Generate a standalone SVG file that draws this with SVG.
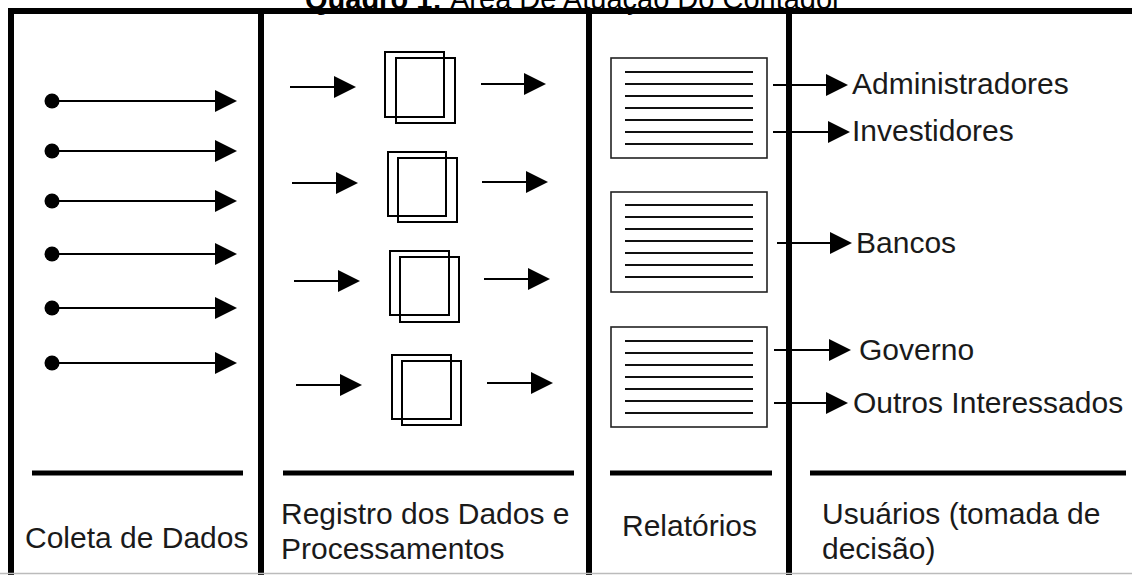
<svg xmlns="http://www.w3.org/2000/svg" width="1132" height="575" viewBox="0 0 1132 575">
<defs>
<style>
.frame{stroke:#000;stroke-width:6;fill:none}
.bar{stroke:#000;stroke-width:5}
.ln{stroke:#000;stroke-width:2;fill:none}
.box{stroke:#000;stroke-width:2;fill:none}
.rep{stroke:#222;stroke-width:1.6;fill:#fff}
.rl{stroke:#111;stroke-width:2}
.t{font-family:"Liberation Sans",Arial,sans-serif;font-size:30px;fill:#1a1a1a}
.title{font-family:"Liberation Sans",Arial,sans-serif;font-size:29px;fill:#000}
</style>
<marker id="ah" markerUnits="userSpaceOnUse" markerWidth="22" markerHeight="22" refX="0" refY="11" orient="auto" overflow="visible">
<path d="M0,0 L22,11 L0,22 Z" fill="#000"/>
</marker>
</defs>
<rect width="1132" height="575" fill="#fff"/>
<g id="title">
<text class="title" x="305" y="9"><tspan font-weight="bold">Quadro 1:</tspan> Área De Atuação Do Contador</text>
</g>
<g id="frame">
<line class="frame" x1="8" y1="11" x2="1132" y2="11"/>
<line class="frame" x1="11" y1="8" x2="11" y2="575"/>
<line class="frame" x1="261" y1="8" x2="261" y2="575"/>
<line class="frame" x1="589" y1="8" x2="589" y2="575"/>
<line class="frame" x1="789" y1="8" x2="789" y2="575"/>
<line x1="0" y1="573.5" x2="1132" y2="573.5" stroke="#bbb" stroke-width="1.5"/>
<line class="bar" x1="32" y1="473" x2="243" y2="473"/>
<line class="bar" x1="283" y1="473" x2="574" y2="473"/>
<line class="bar" x1="610" y1="473" x2="772" y2="473"/>
<line class="bar" x1="810" y1="473" x2="1126" y2="473"/>
</g>
<g id="col1-coleta">
<g fill="#000">
<circle cx="52" cy="101" r="7.5"/>
<circle cx="52" cy="151" r="7.5"/>
<circle cx="52" cy="201" r="7.5"/>
<circle cx="52" cy="254" r="7.5"/>
<circle cx="52" cy="308" r="7.5"/>
<circle cx="52" cy="363" r="7.5"/>
</g>
<text class="t" x="25" y="548">Coleta de Dados</text>
</g>
<g id="col2-registro">
<rect class="box" x="385" y="52" width="59" height="65"/>
<rect class="box" x="396" y="58" width="59" height="65"/>
<rect class="box" x="388" y="152" width="58" height="64"/>
<rect class="box" x="398" y="158" width="59" height="64"/>
<rect class="box" x="390" y="251" width="59" height="64"/>
<rect class="box" x="400" y="257" width="59" height="65"/>
<rect class="box" x="392" y="355" width="59" height="64"/>
<rect class="box" x="402" y="361" width="59" height="64"/>
<text class="t" x="281" y="524">Registro dos Dados e</text>
<text class="t" x="281" y="559">Processamentos</text>
</g>
<g id="col3-relatorios">
<rect class="rep" x="611" y="58" width="156" height="100"/>
<g class="rl">
<line x1="625" y1="72" x2="753" y2="72"/><line x1="625" y1="84" x2="753" y2="84"/><line x1="625" y1="96" x2="753" y2="96"/><line x1="625" y1="108" x2="753" y2="108"/><line x1="625" y1="120" x2="753" y2="120"/><line x1="625" y1="132" x2="753" y2="132"/><line x1="625" y1="144" x2="753" y2="144"/>
</g>
<rect class="rep" x="611" y="192" width="156" height="100"/>
<g class="rl">
<line x1="625" y1="205" x2="753" y2="205"/><line x1="625" y1="217" x2="753" y2="217"/><line x1="625" y1="229" x2="753" y2="229"/><line x1="625" y1="241" x2="753" y2="241"/><line x1="625" y1="253" x2="753" y2="253"/><line x1="625" y1="265" x2="753" y2="265"/><line x1="625" y1="277" x2="753" y2="277"/>
</g>
<rect class="rep" x="611" y="327" width="156" height="100"/>
<g class="rl">
<line x1="625" y1="341" x2="753" y2="341"/><line x1="625" y1="353" x2="753" y2="353"/><line x1="625" y1="365" x2="753" y2="365"/><line x1="625" y1="377" x2="753" y2="377"/><line x1="625" y1="389" x2="753" y2="389"/><line x1="625" y1="401" x2="753" y2="401"/><line x1="625" y1="413" x2="753" y2="413"/>
</g>
<text class="t" x="622" y="536">Relatórios</text>
</g>
<g id="col4-usuarios">
<text class="t" x="852" y="94">Administradores</text>
<text class="t" x="852" y="141">Investidores</text>
<text class="t" x="856" y="253">Bancos</text>
<text class="t" x="859" y="360">Governo</text>
<text class="t" x="853" y="413">Outros Interessados</text>
<text class="t" x="822" y="524">Usuários (tomada de</text>
<text class="t" x="822" y="559">decisão)</text>
</g>
<g id="connectors" class="ln" marker-end="url(#ah)">
<line x1="52" y1="101" x2="215" y2="101"/>
<line x1="52" y1="151" x2="215" y2="151"/>
<line x1="52" y1="201" x2="215" y2="201"/>
<line x1="52" y1="254" x2="215" y2="254"/>
<line x1="52" y1="308" x2="215" y2="308"/>
<line x1="52" y1="363" x2="215" y2="363"/>
<line x1="290" y1="87" x2="334" y2="87"/>
<line x1="481" y1="84" x2="524" y2="84"/>
<line x1="292" y1="183" x2="336" y2="183"/>
<line x1="482" y1="182" x2="526" y2="182"/>
<line x1="294" y1="281" x2="338" y2="281"/>
<line x1="484" y1="279" x2="528" y2="279"/>
<line x1="296" y1="385" x2="340" y2="385"/>
<line x1="487" y1="383" x2="531" y2="383"/>
<line x1="773" y1="85" x2="826" y2="85"/>
<line x1="773" y1="132" x2="828" y2="132"/>
<line x1="777" y1="243" x2="830" y2="243"/>
<line x1="774" y1="350" x2="829" y2="350"/>
<line x1="774" y1="403" x2="826" y2="403"/>
</g>
</svg>
